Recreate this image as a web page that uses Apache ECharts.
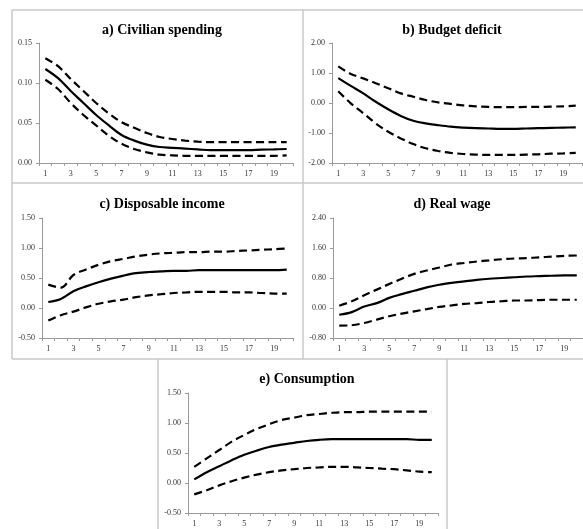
<!DOCTYPE html>
<html>
<head>
<meta charset="utf-8">
<script src="https://cdn.jsdelivr.net/npm/echarts@6/dist/echarts.min.js"></script>
<style>
html,body{margin:0;padding:0;background:#fff;}
#chart{width:583px;height:529px;}
</style>
</head>
<body>
<div id="chart"></div>
<script>
// Periods 1..20
var periods = [1,2,3,4,5,6,7,8,9,10,11,12,13,14,15,16,17,18,19,20];

// a) Civilian spending
var civMid   = [0.1175,0.106,0.090,0.075,0.060,0.047,0.035,0.028,0.023,0.020,0.019,0.018,0.017,0.016,0.016,0.016,0.016,0.0167,0.017,0.0175];
var civUp    = [0.131,0.121,0.105,0.090,0.075,0.062,0.051,0.044,0.0375,0.0325,0.030,0.028,0.0267,0.026,0.026,0.026,0.026,0.026,0.026,0.026];
var civLo    = [0.104,0.0925,0.075,0.060,0.047,0.034,0.024,0.0175,0.0133,0.0104,0.0096,0.009,0.009,0.009,0.009,0.009,0.009,0.009,0.009,0.0096];

// b) Budget deficit
var budMid   = [0.83,0.57,0.32,0.04,-0.21,-0.43,-0.59,-0.68,-0.74,-0.79,-0.82,-0.84,-0.85,-0.86,-0.86,-0.85,-0.84,-0.83,-0.82,-0.81];
var budUp    = [1.22,0.97,0.82,0.66,0.49,0.32,0.21,0.10,0.02,-0.03,-0.08,-0.11,-0.13,-0.14,-0.14,-0.13,-0.13,-0.12,-0.11,-0.09];
var budLo    = [0.39,-0.01,-0.34,-0.68,-0.96,-1.18,-1.37,-1.51,-1.60,-1.66,-1.70,-1.72,-1.73,-1.73,-1.73,-1.72,-1.71,-1.69,-1.68,-1.66];

// c) Disposable income
var dispMid  = [0.10,0.15,0.28,0.36,0.43,0.49,0.54,0.58,0.60,0.61,0.62,0.62,0.63,0.63,0.63,0.63,0.63,0.63,0.63,0.64];
var dispUp   = [0.39,0.34,0.55,0.64,0.72,0.78,0.82,0.86,0.89,0.91,0.92,0.93,0.93,0.94,0.94,0.95,0.96,0.97,0.98,0.99];
var dispLo   = [-0.21,-0.12,-0.06,0.01,0.07,0.11,0.14,0.18,0.21,0.23,0.25,0.26,0.27,0.27,0.27,0.26,0.26,0.25,0.24,0.24];

// d) Real wage
var wageMid  = [-0.18,-0.11,0.04,0.13,0.27,0.37,0.46,0.55,0.62,0.67,0.71,0.75,0.78,0.80,0.82,0.84,0.85,0.86,0.87,0.87];
var wageUp   = [0.06,0.18,0.34,0.49,0.64,0.78,0.91,1.00,1.08,1.16,1.20,1.24,1.27,1.30,1.32,1.33,1.35,1.37,1.39,1.40];
var wageLo   = [-0.47,-0.46,-0.40,-0.31,-0.22,-0.15,-0.09,-0.03,0.03,0.07,0.11,0.13,0.16,0.18,0.20,0.20,0.21,0.22,0.22,0.22];

// e) Consumption
var consMid  = [0.06,0.18,0.28,0.38,0.47,0.54,0.60,0.64,0.67,0.70,0.72,0.73,0.73,0.73,0.73,0.73,0.73,0.73,0.72,0.72];
var consUp   = [0.27,0.41,0.55,0.69,0.80,0.90,0.98,1.05,1.09,1.13,1.15,1.17,1.18,1.18,1.19,1.19,1.19,1.19,1.19,1.19];
var consLo   = [-0.19,-0.12,-0.04,0.03,0.09,0.14,0.18,0.21,0.23,0.25,0.26,0.27,0.27,0.26,0.25,0.24,0.23,0.21,0.19,0.18];

var titles = ['a) Civilian spending','b) Budget deficit','c) Disposable income','d) Real wage','e) Consumption'];
var yMin = [0, -2, -0.5, -0.8, -0.5];
var yMax = [0.15, 2, 1.5, 2.4, 1.5];
var yStep = [0.05, 1, 0.5, 0.8, 0.5];
var panelData = [
  [civMid, civUp, civLo],
  [budMid, budUp, budLo],
  [dispMid, dispUp, dispLo],
  [wageMid, wageUp, wageLo],
  [consMid, consUp, consLo]
];

// layout
var grids = [
  {left:39, top:43, width:254, height:120},
  {left:332, top:43, width:250, height:120},
  {left:42, top:218, width:251, height:120},
  {left:333, top:218, width:250, height:120},
  {left:188, top:393, width:250, height:120}
];
var titlePos = [
  {x:157, y:18}, {x:447, y:18}, {x:157, y:192}, {x:447, y:192}, {x:302, y:367}
];

var axisColor = '#9a9a9a';
var labelFont = {fontFamily:'Liberation Serif', fontSize:8, color:'#333'};

var option = {
  backgroundColor:'#fff',
  animation:false,
  title: titles.map(function(t,i){
    return {text:t, left:titlePos[i].x, top:titlePos[i].y, textAlign:'center',
      textStyle:{fontFamily:'Liberation Serif', fontWeight:'bold', fontSize:14, color:'#000'}};
  }),
  grid: grids.map(function(g){ return Object.assign({containLabel:false}, g); }),
  xAxis: grids.map(function(g,i){
    return {type:'category', gridIndex:i, data:periods, boundaryGap:true,
      axisLine:{show:true, onZero:false, lineStyle:{color:axisColor, width:1}},
      axisTick:{show:true, interval:0, length:3, lineStyle:{color:axisColor}},
      axisLabel:Object.assign({interval:1, margin:7}, labelFont),
      splitLine:{show:false}};
  }),
  yAxis: grids.map(function(g,i){
    return {type:'value', gridIndex:i, min:yMin[i], max:yMax[i], interval:yStep[i],
      axisLine:{show:true, onZero:false, lineStyle:{color:axisColor, width:1}},
      axisTick:{show:true, length:3, lineStyle:{color:axisColor}},
      axisLabel:Object.assign({margin:7, formatter:function(v){ return v.toFixed(2); }}, labelFont),
      splitLine:{show:false}};
  }),
  series: [],
  graphic: []
};

panelData.forEach(function(set, i){
  set.forEach(function(arr, k){
    option.series.push({
      type:'line', xAxisIndex:i, yAxisIndex:i, data:arr, smooth:0.35,
      symbol:'none', silent:true,
      lineStyle:{color:'#000', width:2.2, type: k===0 ? 'solid' : [8,4.5]}
    });
  });
});

var border = {stroke:'#c8c8c8', lineWidth:1.5};
function hline(x1,x2,y){ return {type:'line', shape:{x1:x1,y1:y,x2:x2,y2:y}, style:border, silent:true}; }
function vline(x,y1,y2){ return {type:'line', shape:{x1:x,y1:y1,x2:x,y2:y2}, style:border, silent:true}; }
option.graphic = [
  hline(12,583,10), hline(12,583,183), hline(12,583,359),
  vline(12,10,359), vline(303,10,359),
  vline(158,359,529), vline(447,359,529)
];

var chart = echarts.init(document.getElementById('chart'), null, {renderer:'canvas'});
chart.setOption(option);
</script>
</body>
</html>
